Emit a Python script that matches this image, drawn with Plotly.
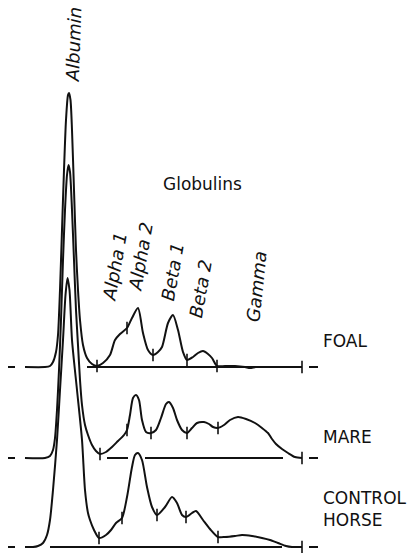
import plotly.graph_objects as go

# ---- data (x = migration position, h = trace height above its own baseline) ----
foal_x = [25, 45, 50, 53, 56, 58, 60, 62, 64, 66, 68, 69, 70.5, 72, 74, 76, 78, 80, 83, 87,
          92, 97, 103, 110, 115, 120, 127, 132, 138, 143, 148, 153, 158, 162, 168, 173, 178, 183, 187, 193,
          198, 203, 208, 212, 217, 225, 235, 245, 250, 256, 265, 302]
foal_h = [0, 0, 1, 5, 15, 32, 77, 137, 197, 247, 272, 274, 267, 237, 177, 117, 77, 47, 22, 9,
          3, 1, 4, 12, 27, 33, 39, 49, 59, 34, 17, 12, 15, 20, 44, 52, 37, 15, 7, 10,
          14, 16, 13, 9, 1, 1, 1, 0, -1, 0, 0, 0]

mare_x = [25, 45, 50, 53, 55, 57, 59, 61, 63, 65, 67, 68.5, 70, 72, 74, 76, 78, 80, 82, 85,
          88, 92, 96, 100, 106, 112, 118, 124, 127, 130, 133, 136, 139, 142, 146, 151, 156, 161, 166, 169,
          173, 177, 182, 187, 192, 197, 204, 209, 213, 218, 224, 230, 238, 246, 255, 262, 268, 272, 276, 282,
          288, 295, 302]
mare_h = [0, 0, 2, 8, 20, 48, 88, 138, 198, 248, 283, 293, 286, 248, 198, 148, 113, 78, 53, 33,
          23, 13, 7, 4, 6, 11, 17, 23, 28, 43, 60, 63, 58, 38, 26, 25, 28, 40, 54, 56,
          50, 38, 28, 25, 30, 35, 36, 34, 31, 30, 33, 38, 41, 39, 35, 30, 25, 19, 14, 9,
          5, 1, 0]

ctrl_x = [25, 33, 38, 43, 47, 50, 53, 57, 60, 63, 65.5, 67.5, 69.5, 72, 77, 82, 85, 88, 90, 94,
          99, 106, 111, 116, 122, 127, 132, 135, 138, 142, 147, 152, 157, 165, 172, 177, 182, 186, 192, 196,
          203, 210, 218, 225, 235, 242, 252, 262, 270, 278, 286, 292, 302]
ctrl_h = [0, 0, 1, 4, 12, 27, 57, 107, 157, 207, 252, 269, 257, 207, 157, 107, 57, 34, 27, 17,
          9, 12, 17, 24, 29, 50, 80, 92, 94, 87, 60, 40, 32, 40, 50, 44, 32, 30, 34, 36,
          27, 18, 10, 10, 11, 12, 11, 9, 7, 4, 1, 0, 0]

# fraction boundaries (cut marks) on each trace
foal_ticks = [97, 127, 153, 187, 217, 302]
mare_ticks = [100, 127, 151, 187, 218, 302]
ctrl_ticks = [99, 122, 157, 186, 218, 302]

# baseline line segments [start, end]
foal_base = [[87, 302]]
mare_base = [[107, 128], [145, 283]]
ctrl_base = [[50, 282]]
left_dash = [8, 15]
right_dash = [309, 318]

names = ["FOAL", "MARE", "CONTROL<br>HORSE"]
levels = [186, 95, 6]
fractions = ["Alpha 1", "Alpha 2", "Beta 1", "Beta 2", "Gamma"]

INK = "#111111"
fig = go.Figure()


def interp(xs, hs, x0):
    for i in range(len(xs) - 1):
        if xs[i] <= x0 <= xs[i + 1]:
            t = (x0 - xs[i]) / (xs[i + 1] - xs[i])
            return hs[i] + t * (hs[i + 1] - hs[i])
    return hs[-1]


for xs, hs, ticks, base, lvl in [
    (foal_x, foal_h, foal_ticks, foal_base, levels[0]),
    (mare_x, mare_h, mare_ticks, mare_base, levels[1]),
    (ctrl_x, ctrl_h, ctrl_ticks, ctrl_base, levels[2]),
]:
    sx, sy = [], []
    for a, b in base + [left_dash, right_dash]:
        sx += [a, b, None]
        sy += [lvl, lvl, None]
    fig.add_trace(go.Scatter(x=sx, y=sy, mode="lines",
                             line=dict(color=INK, width=2), hoverinfo="skip"))
    fig.add_trace(go.Scatter(x=xs, y=[lvl + h for h in hs], mode="lines",
                             line=dict(color=INK, width=2, shape="spline", smoothing=0.7),
                             hoverinfo="skip"))
    fig.add_trace(go.Scatter(x=ticks, y=[lvl + interp(xs, hs, t) for t in ticks], mode="markers",
                             marker=dict(symbol="line-ns-open", size=9, color=INK,
                                         line=dict(color=INK, width=1.6)),
                             hoverinfo="skip"))

FONT = "DejaVu Sans"
ann = []
ann.append(dict(x=73, y=508, text="<i>Albumin</i>", textangle=-88,
                font=dict(family=FONT, size=18, color=INK)))
ann.append(dict(x=202, y=369, text="Globulins",
                font=dict(family=FONT, size=17, color=INK)))
frac_pos = [(114, 286, -80), (140, 296, -80), (172, 281, -80), (200, 264, -80), (256, 266, -84)]
for name, (x, y, a) in zip(fractions, frac_pos):
    ann.append(dict(x=x, y=y, text="<i>" + name + "</i>", textangle=a,
                    font=dict(family=FONT, size=18, color=INK)))
for name, (x, y) in zip(names, [(321, 212), (321, 116), (321, 44)]):
    ann.append(dict(x=x, y=y, text=name, xanchor="left", align="left",
                    font=dict(family=FONT, size=17, color=INK)))
for a in ann:
    a.update(showarrow=False, xref="x", yref="y")

fig.update_layout(
    width=410, height=553,
    margin=dict(l=0, r=0, t=0, b=0),
    paper_bgcolor="white", plot_bgcolor="white",
    showlegend=False,
    xaxis=dict(range=[0, 410], visible=False, fixedrange=True),
    yaxis=dict(range=[0, 553], visible=False, fixedrange=True),
    annotations=ann,
)

fig.write_html("out.html", config={"displayModeBar": False},
               post_script="document.body.style.margin='0';document.body.style.overflow='hidden';")
